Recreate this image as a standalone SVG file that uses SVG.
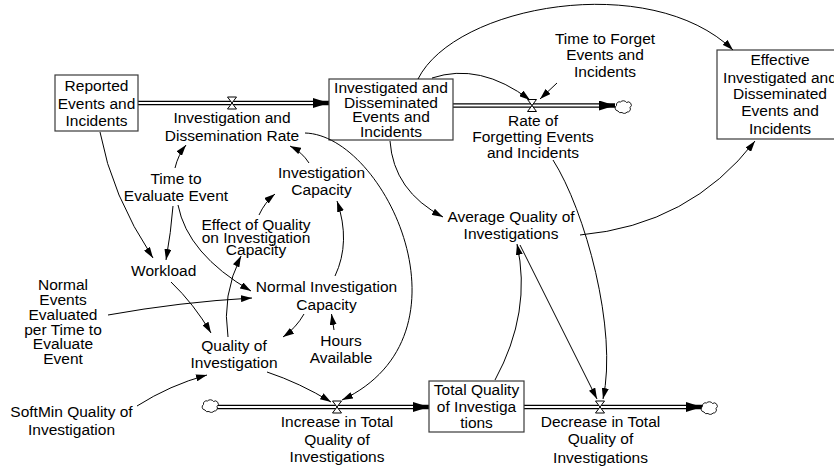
<svg xmlns="http://www.w3.org/2000/svg" xmlns:xlink="http://www.w3.org/1999/xlink" width="834" height="468" viewBox="0 0 834 468">
  <style>
    text { font-family: "Liberation Sans", Arial, sans-serif; font-size: 15.5px; fill: #000; text-anchor: middle; }
    .stock { fill: #fff; stroke: #3a3a3a; stroke-width: 1.2; }
    .pipe { fill: none; stroke: #000; stroke-width: 4.4; }
    .pipe-in { fill: none; stroke: #fff; stroke-width: 2; }
    .link { fill: none; stroke: #000; stroke-width: 1; marker-end: url(#head); }
    .valve { fill: #fff; stroke: #000; stroke-width: 1; }
    .cloud { fill: #fff; stroke: #000; stroke-width: 0.9; }
  </style>
  <defs>
    <marker id="head" markerUnits="userSpaceOnUse" viewBox="0 0 11 7" refX="11" refY="3.5" markerWidth="11" markerHeight="7" orient="auto">
      <path d="M0,0 L11,3.5 L0,7 z" fill="#000"/>
    </marker>
    <marker id="flowhead" markerUnits="userSpaceOnUse" viewBox="0 0 16 10" refX="16" refY="5" markerWidth="16" markerHeight="10" orient="auto">
      <path d="M0,0 L16,5 L0,10 z" fill="#000"/>
    </marker>
    <path id="valve" class="valve" d="M-4.5,-6 H4.5 L-4.5,6 H4.5 Z"/>
    <path id="cloud" class="cloud" d="M-5,4 A3,3 0 0 1 -6.5,-1.5 A3,3 0 0 1 -2.5,-5 A3.5,3 0 0 1 3.5,-4.5 A3,3 0 0 1 7,0.5 A3,3 0 0 1 4,5 A3,2.5 0 0 1 -1,5.5 A3,2.5 0 0 1 -5,4 Z"/>
  </defs>

  <!-- material flows: pipes, valves and clouds -->
  <g id="flows">
    <path class="pipe" d="M138,103 H329" marker-end="url(#flowhead)"/>
    <path class="pipe-in" d="M138,103 H313"/>
    <path class="pipe" d="M453,105.5 H615" marker-end="url(#flowhead)"/>
    <path class="pipe-in" d="M453,105.5 H599"/>
    <path class="pipe" d="M217,407 H429" marker-end="url(#flowhead)"/>
    <path class="pipe-in" d="M215,407 H413"/>
    <path class="pipe" d="M524,407 H702" marker-end="url(#flowhead)"/>
    <path class="pipe-in" d="M524,407 H686"/>
    <use xlink:href="#valve" x="232" y="103"/>
    <use xlink:href="#valve" x="532" y="105.5"/>
    <use xlink:href="#valve" x="337" y="407"/>
    <use xlink:href="#valve" x="600" y="407"/>
    <use xlink:href="#cloud" x="623" y="107"/>
    <use xlink:href="#cloud" x="210" y="406"/>
    <use xlink:href="#cloud" x="709" y="408"/>
  </g>

  <!-- stocks -->
  <g id="reported-events">
    <rect class="stock" x="55" y="75" width="83" height="56"/>
    <text><tspan x="96.5" y="91">Reported</tspan><tspan x="96.5" y="108.5">Events and</tspan><tspan x="96.5" y="126">Incidents</tspan></text>
  </g>
  <g id="investigated-events">
    <rect class="stock" x="329" y="79" width="124" height="61"/>
    <text><tspan x="391" y="93.3">Investigated and</tspan><tspan x="391" y="107.7">Disseminated</tspan><tspan x="391" y="122.3">Events and</tspan><tspan x="391" y="136.7">Incidents</tspan></text>
  </g>
  <g id="effective-events">
    <rect class="stock" x="717" y="50" width="128" height="89"/>
    <text><tspan x="780" y="65">Effective</tspan><tspan x="780" y="83">Investigated and</tspan><tspan x="780" y="99">Disseminated</tspan><tspan x="780" y="116">Events and</tspan><tspan x="780" y="134">Incidents</tspan></text>
  </g>
  <g id="total-quality">
    <rect class="stock" x="429" y="381" width="95" height="51"/>
    <text><tspan x="476.5" y="395">Total Quality</tspan><tspan x="476.5" y="411.7">of Investiga</tspan><tspan x="476.5" y="428">tions</tspan></text>
  </g>

  <!-- rates -->
  <g id="investigation-rate">
    <text><tspan x="232" y="123">Investigation and</tspan><tspan x="232" y="140.5">Dissemination Rate</tspan></text>
  </g>
  <g id="forgetting-rate">
    <text><tspan x="533" y="125.5">Rate of</tspan><tspan x="533" y="142">Forgetting Events</tspan><tspan x="533" y="158">and Incidents</tspan></text>
  </g>
  <g id="increase-quality">
    <text><tspan x="337" y="427.3">Increase in Total</tspan><tspan x="337" y="445">Quality of</tspan><tspan x="337" y="462.3">Investigations</tspan></text>
  </g>
  <g id="decrease-quality">
    <text><tspan x="600.5" y="426.7">Decrease in Total</tspan><tspan x="600.5" y="444.3">Quality of</tspan><tspan x="600.5" y="462.7">Investigations</tspan></text>
  </g>

  <!-- auxiliaries -->
  <g id="time-to-forget">
    <text><tspan x="605" y="44">Time to Forget</tspan><tspan x="605" y="60">Events and</tspan><tspan x="605" y="76.7">Incidents</tspan></text>
  </g>
  <g id="time-to-evaluate">
    <text><tspan x="176" y="183.5">Time to</tspan><tspan x="176" y="201">Evaluate Event</tspan></text>
  </g>
  <g id="investigation-capacity">
    <text><tspan x="321.5" y="177.5">Investigation</tspan><tspan x="321.5" y="195">Capacity</tspan></text>
  </g>
  <g id="effect-of-quality">
    <text><tspan x="256" y="230">Effect of Quality</tspan><tspan x="256" y="242.7">on Investigation</tspan><tspan x="256" y="255">Capacity</tspan></text>
  </g>
  <g id="workload">
    <text x="163.7" y="276">Workload</text>
  </g>
  <g id="normal-capacity">
    <text><tspan x="326.5" y="292.3">Normal Investigation</tspan><tspan x="326.5" y="310">Capacity</tspan></text>
  </g>
  <g id="normal-events">
    <text><tspan x="63" y="290">Normal</tspan><tspan x="63" y="305">Events</tspan><tspan x="63" y="320">Evaluated</tspan><tspan x="63" y="334.5">per Time to</tspan><tspan x="63" y="349.3">Evaluate</tspan><tspan x="63" y="364">Event</tspan></text>
  </g>
  <g id="quality-of-investigation">
    <text><tspan x="234" y="350.7">Quality of</tspan><tspan x="234" y="368.3">Investigation</tspan></text>
  </g>
  <g id="hours-available">
    <text><tspan x="341" y="345.7">Hours</tspan><tspan x="341" y="362.7">Available</tspan></text>
  </g>
  <g id="softmin-quality">
    <text><tspan x="71.5" y="416.7">SoftMin Quality of</tspan><tspan x="71.5" y="435">Investigation</tspan></text>
  </g>
  <g id="average-quality">
    <text><tspan x="511" y="221.7">Average Quality of</tspan><tspan x="511" y="239.3">Investigations</tspan></text>
  </g>

  <!-- causal links -->
  <g id="connectors">
    <path class="link" d="M100,132 Q111.5,195 153,258"/>
    <path class="link" d="M175,168 Q178,155 186,145"/>
    <path class="link" d="M173,206 Q171,232 166,260"/>
    <path class="link" d="M178,205 Q187.5,254 251,291"/>
    <path class="link" d="M309,163 Q302,152 290,146"/>
    <path class="link" d="M259,215 Q265,202 275,194"/>
    <path class="link" d="M335,276 Q351,242 337,201"/>
    <path class="link" d="M228,337 Q221.5,295.5 241,256"/>
    <path class="link" d="M171,282 Q194,304 211,333"/>
    <path class="link" d="M108,315 Q180,302 252,298"/>
    <path class="link" d="M304,314 Q296,328 283,337"/>
    <path class="link" d="M334,330 L331.5,314"/>
    <path class="link" d="M137,406 Q170,385 207,375"/>
    <path class="link" d="M267,372 Q300,383 331,402"/>
    <path class="link" d="M305,133 C385,135 480,335 342,400"/>
    <path class="link" d="M432,78 Q480,62 530,100"/>
    <path class="link" d="M557,83 L540,99"/>
    <path class="link" d="M418,79 C455,5 650,-30 733,50"/>
    <path class="link" d="M390,141 Q393.5,191 443,217"/>
    <path class="link" d="M580,235 Q690,225 755,141"/>
    <path class="link" d="M495,380 Q532,312 517,244"/>
    <path class="link" d="M520,245 L597,399"/>
    <path class="link" d="M553,160 C585,210 618,330 603,399"/>
  </g>
</svg>
